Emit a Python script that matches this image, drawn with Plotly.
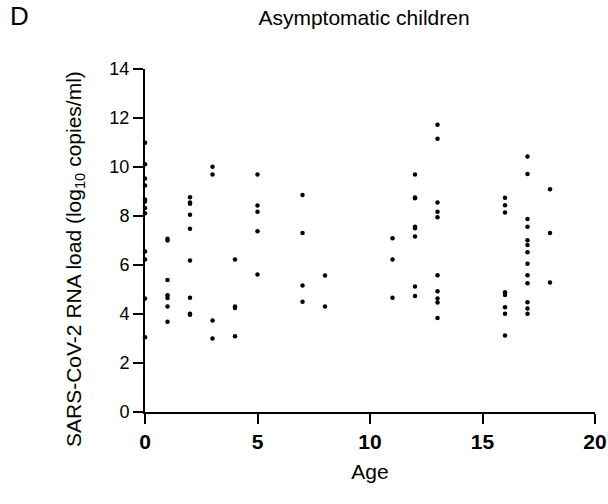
import plotly.graph_objects as go

ages_0 = [0]*12
load_0 = [10.99, 10.11, 9.53, 9.24, 8.67, 8.59, 8.33, 8.11, 6.55, 6.22, 4.63, 3.05]
ages_1 = [1]*7
load_1 = [7.07, 7.00, 5.39, 4.77, 4.65, 4.31, 3.68]
ages_2 = [2]*9
load_2 = [8.77, 8.55, 8.50, 8.05, 7.48, 6.18, 4.66, 4.01, 3.97]
ages_3 = [3]*4
load_3 = [10.01, 9.69, 3.73, 3.00]
ages_4 = [4]*4
load_4 = [6.22, 4.31, 4.25, 3.09]
ages_5 = [5]*5
load_5 = [9.69, 8.43, 8.17, 7.38, 5.61]
ages_7 = [7]*4
load_7 = [8.86, 7.31, 5.16, 4.50]
ages_8 = [8]*2
load_8 = [5.57, 4.31]
ages_11 = [11]*3
load_11 = [7.09, 6.22, 4.66]
ages_12 = [12]*8
load_12 = [9.69, 8.76, 8.72, 7.56, 7.50, 7.16, 5.12, 4.73]
ages_13 = [13]*10
load_13 = [11.72, 11.15, 8.55, 8.17, 7.95, 5.58, 4.93, 4.63, 4.47, 3.84]
ages_16 = [16]*8
load_16 = [8.74, 8.44, 8.14, 4.89, 4.78, 4.28, 4.01, 3.12]
ages_17 = [17]*13
load_17 = [10.43, 9.71, 7.88, 7.56, 7.01, 6.82, 6.52, 6.05, 5.58, 5.26, 4.48, 4.22, 4.01]
ages_18 = [18]*3
load_18 = [9.09, 7.31, 5.29]

x_ticks = [0, 5, 10, 15, 20]
y_ticks = [0, 2, 4, 6, 8, 10, 12, 14]

ages = (ages_0 + ages_1 + ages_2 + ages_3 + ages_4 + ages_5 + ages_7 + ages_8
        + ages_11 + ages_12 + ages_13 + ages_16 + ages_17 + ages_18)
loads = (load_0 + load_1 + load_2 + load_3 + load_4 + load_5 + load_7 + load_8
         + load_11 + load_12 + load_13 + load_16 + load_17 + load_18)

fig = go.Figure()
fig.add_trace(go.Scatter(
    x=ages, y=loads, mode="markers",
    marker=dict(color="black", size=4.5),
    cliponaxis=False, showlegend=False,
))

font_family = "Liberation Sans, Arial, sans-serif"
fig.update_layout(
    width=608, height=504,
    margin=dict(l=145, r=13, t=69, b=92),
    paper_bgcolor="white", plot_bgcolor="white",
    font=dict(family=font_family, color="black", size=21),
    title=dict(text="Asymptomatic children", x=364/608, xanchor="center",
               y=1 - 18/504, yanchor="middle", font=dict(size=21)),
    xaxis=dict(range=[0, 20], tickvals=x_ticks, ticktext=[f"<b>{v}</b>" for v in x_ticks],
               showline=True, linecolor="black", linewidth=2,
               ticks="outside", ticklen=10, tickwidth=2, tickcolor="black",
               showgrid=False, zeroline=False, automargin=False,
               title=dict(text="Age", standoff=12, font=dict(size=21)),
               tickfont=dict(size=21)),
    yaxis=dict(range=[0, 14], tickvals=y_ticks,
               showline=True, linecolor="black", linewidth=2,
               ticks="outside", ticklen=10, tickwidth=2, tickcolor="black",
               showgrid=False, zeroline=False, automargin=False,
               tickfont=dict(size=18)),
    annotations=[
        dict(text="D", x=(8 - 145) / 450, y=1 + (69 - 16) / 343,
             xref="paper", yref="paper", xanchor="left", yanchor="middle",
             showarrow=False, font=dict(size=26)),
        dict(text="SARS-CoV-2 RNA load (log<sub>10</sub> copies/ml)",
             x=(75 - 145) / 450, y=(412 - 259) / 343, textangle=-90,
             xref="paper", yref="paper", xanchor="center", yanchor="middle",
             showarrow=False, font=dict(size=21)),
    ],
)

fig.write_html("out.html", config={"displayModeBar": False},
               post_script="document.body.style.margin='0';")
